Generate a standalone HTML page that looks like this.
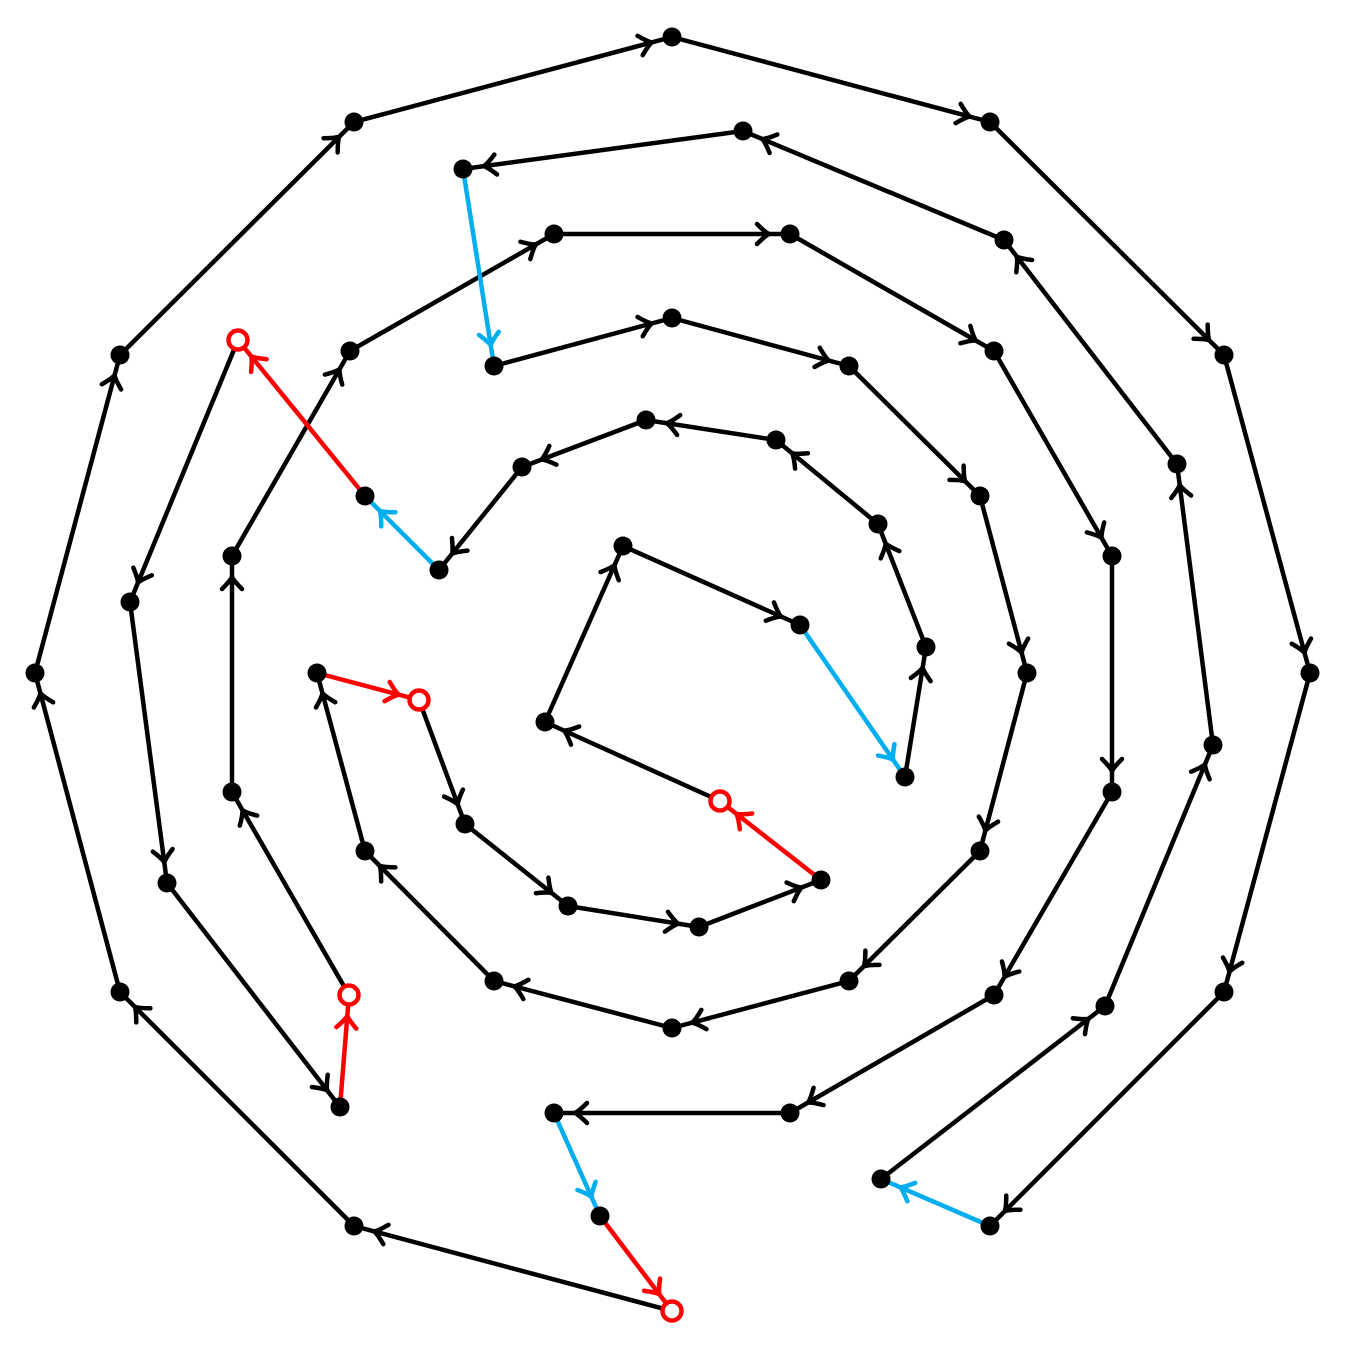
<!DOCTYPE html>
<html><head><meta charset="utf-8"><style>html,body{margin:0;padding:0;background:#fff}svg{display:block}</style></head>
<body>
<svg width="1345" height="1349" viewBox="0 0 1345 1349" xmlns="http://www.w3.org/2000/svg">
<defs>
<marker id="k" markerUnits="userSpaceOnUse" viewBox="-20 -12 40 24" markerWidth="40" markerHeight="24" refX="21" refY="0" orient="auto" overflow="visible"><path d="M-12,-10 Q-4,-2 0,0 Q-4,2 -12,10" fill="none" stroke="#000" stroke-width="4.5" stroke-linecap="round" stroke-linejoin="round"/></marker>
<marker id="r" markerUnits="userSpaceOnUse" viewBox="-20 -12 40 24" markerWidth="40" markerHeight="24" refX="21" refY="0" orient="auto" overflow="visible"><path d="M-12,-10 Q-4,-2 0,0 Q-4,2 -12,10" fill="none" stroke="#f00" stroke-width="4.5" stroke-linecap="round" stroke-linejoin="round"/></marker>
<marker id="b" markerUnits="userSpaceOnUse" viewBox="-20 -12 40 24" markerWidth="40" markerHeight="24" refX="21" refY="0" orient="auto" overflow="visible"><path d="M-12,-10 Q-4,-2 0,0 Q-4,2 -12,10" fill="none" stroke="#00aeef" stroke-width="4.5" stroke-linecap="round" stroke-linejoin="round"/></marker>
</defs>
<g stroke-width="4.5" fill="none">
<g stroke="#000" marker-end="url(#k)">
<line x1="354" y1="122" x2="672" y2="37"/>
<line x1="672" y1="37" x2="990" y2="122"/>
<line x1="990" y1="122" x2="1224" y2="355"/>
<line x1="1224" y1="355" x2="1310" y2="673"/>
<line x1="1310" y1="673" x2="1224" y2="992"/>
<line x1="1224" y1="992" x2="990" y2="1226"/>
<line x1="672" y1="1311" x2="354" y2="1226"/>
<line x1="354" y1="1226" x2="120" y2="992"/>
<line x1="120" y1="992" x2="35" y2="673"/>
<line x1="35" y1="673" x2="120" y2="355"/>
<line x1="120" y1="355" x2="354" y2="122"/>
<line x1="881" y1="1179" x2="1105" y2="1006"/>
<line x1="1105" y1="1006" x2="1213" y2="745"/>
<line x1="1213" y1="745" x2="1177" y2="464"/>
<line x1="1177" y1="464" x2="1004" y2="240"/>
<line x1="1004" y1="240" x2="743" y2="131"/>
<line x1="743" y1="131" x2="463" y2="169"/>
<line x1="494" y1="366" x2="672" y2="318"/>
<line x1="672" y1="318" x2="849" y2="366"/>
<line x1="849" y1="366" x2="980" y2="496"/>
<line x1="980" y1="496" x2="1027" y2="673"/>
<line x1="1027" y1="673" x2="980" y2="851"/>
<line x1="980" y1="851" x2="849" y2="981"/>
<line x1="849" y1="981" x2="672" y2="1028"/>
<line x1="672" y1="1028" x2="494" y2="981"/>
<line x1="494" y1="981" x2="365" y2="851"/>
<line x1="365" y1="851" x2="317" y2="673"/>
<line x1="419" y1="700" x2="465" y2="824"/>
<line x1="465" y1="824" x2="568" y2="906"/>
<line x1="568" y1="906" x2="699" y2="927"/>
<line x1="699" y1="927" x2="821" y2="880"/>
<line x1="720" y1="801" x2="545" y2="722"/>
<line x1="545" y1="722" x2="623" y2="546"/>
<line x1="623" y1="546" x2="800" y2="625"/>
<line x1="905" y1="777" x2="926" y2="647"/>
<line x1="926" y1="647" x2="878" y2="524"/>
<line x1="878" y1="524" x2="776" y2="440"/>
<line x1="776" y1="440" x2="646" y2="420"/>
<line x1="646" y1="420" x2="522" y2="467"/>
<line x1="522" y1="467" x2="439" y2="570"/>
<line x1="238" y1="340" x2="130" y2="602"/>
<line x1="130" y1="602" x2="167" y2="883"/>
<line x1="167" y1="883" x2="340" y2="1107"/>
<line x1="349" y1="995" x2="232" y2="792"/>
<line x1="232" y1="792" x2="232" y2="556"/>
<line x1="232" y1="556" x2="350" y2="351"/>
<line x1="350" y1="351" x2="554" y2="234"/>
<line x1="554" y1="234" x2="790" y2="234"/>
<line x1="790" y1="234" x2="994" y2="351"/>
<line x1="994" y1="351" x2="1112" y2="556"/>
<line x1="1112" y1="556" x2="1112" y2="792"/>
<line x1="1112" y1="792" x2="994" y2="995"/>
<line x1="994" y1="995" x2="790" y2="1113"/>
<line x1="790" y1="1113" x2="554" y2="1113"/>
</g>
<g stroke="#00aeef" marker-end="url(#b)">
<line x1="990" y1="1226" x2="881" y2="1179"/>
<line x1="463" y1="169" x2="494" y2="366"/>
<line x1="800" y1="625" x2="905" y2="777"/>
<line x1="439" y1="570" x2="365" y2="496"/>
<line x1="554" y1="1113" x2="600" y2="1216"/>
</g>
<g stroke="#f00" marker-end="url(#r)">
<line x1="317" y1="673" x2="419" y2="700"/>
<line x1="821" y1="880" x2="720" y2="801"/>
<line x1="365" y1="496" x2="238" y2="340"/>
<line x1="340" y1="1107" x2="349" y2="995"/>
<line x1="600" y1="1216" x2="672" y2="1311"/>
</g>
</g>
<g fill="#000">
<circle cx="672" cy="37" r="9.5"/><circle cx="990" cy="122" r="9.5"/><circle cx="1224" cy="355" r="9.5"/><circle cx="1310" cy="673" r="9.5"/><circle cx="1224" cy="992" r="9.5"/><circle cx="990" cy="1226" r="9.5"/><circle cx="354" cy="1226" r="9.5"/><circle cx="120" cy="992" r="9.5"/><circle cx="35" cy="673" r="9.5"/><circle cx="120" cy="355" r="9.5"/><circle cx="354" cy="122" r="9.5"/>
<circle cx="881" cy="1179" r="9.5"/><circle cx="1105" cy="1006" r="9.5"/><circle cx="1213" cy="745" r="9.5"/><circle cx="1177" cy="464" r="9.5"/><circle cx="1004" cy="240" r="9.5"/><circle cx="743" cy="131" r="9.5"/><circle cx="463" cy="169" r="9.5"/><circle cx="494" cy="366" r="9.5"/><circle cx="672" cy="318" r="9.5"/><circle cx="849" cy="366" r="9.5"/><circle cx="980" cy="496" r="9.5"/><circle cx="1027" cy="673" r="9.5"/><circle cx="980" cy="851" r="9.5"/><circle cx="849" cy="981" r="9.5"/><circle cx="672" cy="1028" r="9.5"/><circle cx="494" cy="981" r="9.5"/><circle cx="365" cy="851" r="9.5"/><circle cx="317" cy="673" r="9.5"/>
<circle cx="465" cy="824" r="9.5"/><circle cx="568" cy="906" r="9.5"/><circle cx="699" cy="927" r="9.5"/><circle cx="821" cy="880" r="9.5"/><circle cx="545" cy="722" r="9.5"/><circle cx="623" cy="546" r="9.5"/><circle cx="800" cy="625" r="9.5"/><circle cx="905" cy="777" r="9.5"/><circle cx="926" cy="647" r="9.5"/><circle cx="878" cy="524" r="9.5"/><circle cx="776" cy="440" r="9.5"/><circle cx="646" cy="420" r="9.5"/><circle cx="522" cy="467" r="9.5"/><circle cx="439" cy="570" r="9.5"/><circle cx="365" cy="496" r="9.5"/>
<circle cx="130" cy="602" r="9.5"/><circle cx="167" cy="883" r="9.5"/><circle cx="340" cy="1107" r="9.5"/><circle cx="232" cy="792" r="9.5"/><circle cx="232" cy="556" r="9.5"/><circle cx="350" cy="351" r="9.5"/><circle cx="554" cy="234" r="9.5"/><circle cx="790" cy="234" r="9.5"/><circle cx="994" cy="351" r="9.5"/><circle cx="1112" cy="556" r="9.5"/><circle cx="1112" cy="792" r="9.5"/><circle cx="994" cy="995" r="9.5"/><circle cx="790" cy="1113" r="9.5"/><circle cx="554" cy="1113" r="9.5"/><circle cx="600" cy="1216" r="9.5"/>
</g>
<g fill="#fff" stroke="#f00" stroke-width="4.5">
<circle cx="672" cy="1311" r="9.5"/><circle cx="419" cy="700" r="9.5"/><circle cx="720" cy="801" r="9.5"/><circle cx="238" cy="340" r="9.5"/><circle cx="349" cy="995" r="9.5"/>
</g>
</svg>
</body></html>
